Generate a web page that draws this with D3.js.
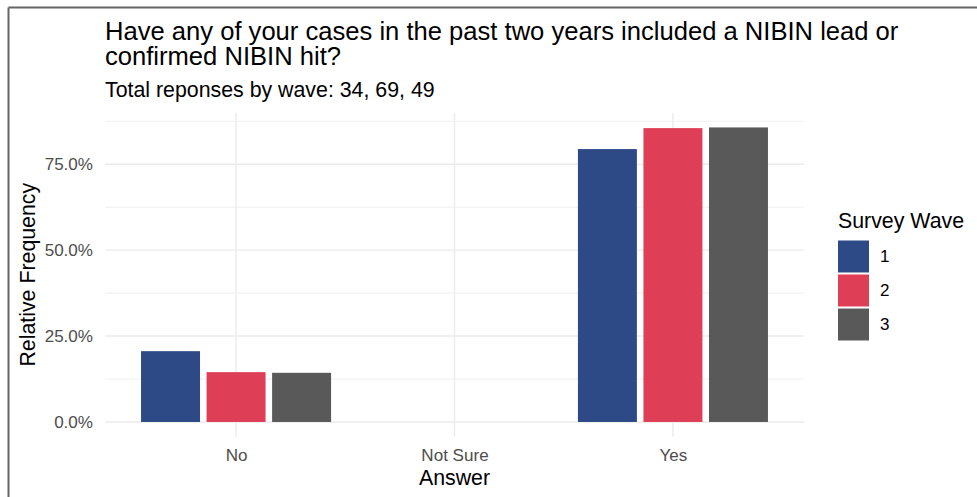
<!DOCTYPE html>
<html>
<head>
<meta charset="utf-8">
<script src="https://cdn.jsdelivr.net/npm/d3@7"></script>
<style>
  html, body { margin: 0; padding: 0; background: #fff; }
  svg { display: block; font-family: "Liberation Sans", Arial, sans-serif; }
</style>
</head>
<body>
<svg id="chart" width="977" height="497"></svg>
<script>
// ---- data ----
const answers = ["No", "Not Sure", "Yes"];
const waves = ["1", "2", "3"];
const wave1 = [0.206, 0, 0.794];
const wave2 = [0.145, 0, 0.855];
const wave3 = [0.143, 0, 0.857];
const waveColors = ["#2d4a87", "#df3e57", "#595959"];
const yTicks = [0, 0.25, 0.5, 0.75];
const yMinor = [0.125, 0.375, 0.625, 0.875];
const titleLines = ["Have any of your cases in the past two years included a NIBIN lead or", "confirmed NIBIN hit?"];
const subtitle = "Total reponses by wave: 34, 69, 49";

const series = [wave1, wave2, wave3];
const rows = [];
answers.forEach((a, i) => waves.forEach((w, j) => rows.push({answer: a, wave: w, value: series[j][i]})));

const base = 21.33;
const small = base * 0.8;

const svg = d3.select("#chart");
const panel = {left: 105, right: 804, top: 112.7, bottom: 436.7};

// frame
svg.append("line").attr("x1", 8.5).attr("x2", 977).attr("y1", 7.5).attr("y2", 7.5)
  .attr("stroke", "#666").attr("stroke-width", 2);
svg.append("line").attr("x1", 8.5).attr("x2", 8.5).attr("y1", 7.5).attr("y2", 497)
  .attr("stroke", "#666").attr("stroke-width", 2);

// scales
const maxV = d3.max(rows, d => d.value);
const y = d3.scaleLinear().domain([-0.05 * maxV, maxV * 1.05]).range([panel.bottom, panel.top]);
const x = d3.scalePoint().domain(answers).range([panel.left, panel.right]).padding(0.6);
const step = x.step();
const groupW = step * 0.9;
const xw = d3.scaleBand().domain(waves).range([-groupW / 2, groupW / 2]).paddingInner(0.1).paddingOuter(0.05);
const color = d3.scaleOrdinal().domain(waves).range(waveColors);

// grid
const g = svg.append("g");
g.selectAll(".minor").data(yMinor).join("line")
  .attr("x1", panel.left).attr("x2", panel.right)
  .attr("y1", d => y(d)).attr("y2", d => y(d))
  .attr("stroke", "#ebebeb").attr("stroke-width", 0.8);
g.selectAll(".major").data(yTicks).join("line")
  .attr("x1", panel.left).attr("x2", panel.right)
  .attr("y1", d => y(d)).attr("y2", d => y(d))
  .attr("stroke", "#ebebeb").attr("stroke-width", 1.4);
g.selectAll(".xmajor").data(answers).join("line")
  .attr("x1", d => x(d)).attr("x2", d => x(d))
  .attr("y1", panel.top).attr("y2", panel.bottom)
  .attr("stroke", "#ebebeb").attr("stroke-width", 1.4);

// bars
svg.append("g").selectAll("rect").data(rows.filter(d => d.value > 0)).join("rect")
  .attr("x", d => x(d.answer) + xw(d.wave))
  .attr("width", xw.bandwidth())
  .attr("y", d => y(d.value))
  .attr("height", d => y(0) - y(d.value))
  .attr("fill", d => color(d.wave));

// axes
const yAxis = d3.axisLeft(y).tickValues(yTicks).tickSize(0).tickPadding(12)
  .tickFormat(d => (d * 100).toFixed(1) + "%");
const ya = svg.append("g").attr("transform", `translate(${panel.left},0)`).call(yAxis);
ya.select(".domain").remove();
ya.selectAll("text").attr("fill", "#4d4d4d").style("font-size", small + "px")
  .style("font-family", "Liberation Sans, Arial, sans-serif");

const xAxis = d3.axisBottom(x).tickSize(0).tickPadding(0);
const xa = svg.append("g").attr("transform", `translate(0,${panel.bottom})`).call(xAxis);
xa.select(".domain").remove();
xa.selectAll("text").attr("fill", "#4d4d4d").attr("dy", null).attr("y", 461.5 - panel.bottom)
  .style("font-size", small + "px")
  .style("font-family", "Liberation Sans, Arial, sans-serif");

// axis titles
svg.append("text").attr("x", (panel.left + panel.right) / 2).attr("y", 485)
  .attr("text-anchor", "middle").attr("font-size", base).attr("fill", "#000").text("Answer");
svg.append("text").attr("transform", `translate(35,${(panel.top + panel.bottom) / 2}) rotate(-90)`)
  .attr("text-anchor", "middle").attr("font-size", base).attr("fill", "#000").text("Relative Frequency");

// titles
svg.append("g").selectAll("text").data(titleLines).join("text")
  .attr("x", 105).attr("y", (d, i) => 40 + i * 25)
  .attr("font-size", base * 1.2).attr("fill", "#000").text(d => d);
svg.append("text").attr("x", 105).attr("y", 97).attr("font-size", base).attr("fill", "#000").text(subtitle);

// legend
const lg = svg.append("g").attr("transform", "translate(838,0)");
lg.append("text").attr("x", 0).attr("y", 228.3).attr("font-size", base).attr("fill", "#000").text("Survey Wave");
const ky = d3.scaleBand().domain(waves).range([240.5, 340.5]).paddingInner(0.06);
lg.selectAll("rect").data(waves).join("rect")
  .attr("x", 0).attr("y", d => ky(d)).attr("width", 31).attr("height", ky.bandwidth())
  .attr("fill", d => color(d));
lg.selectAll(".lab").data(waves).join("text")
  .attr("x", 42).attr("y", d => ky(d) + ky.bandwidth() / 2).attr("dy", "0.35em")
  .attr("font-size", small).attr("fill", "#000").text(d => d);
</script>
</body>
</html>
